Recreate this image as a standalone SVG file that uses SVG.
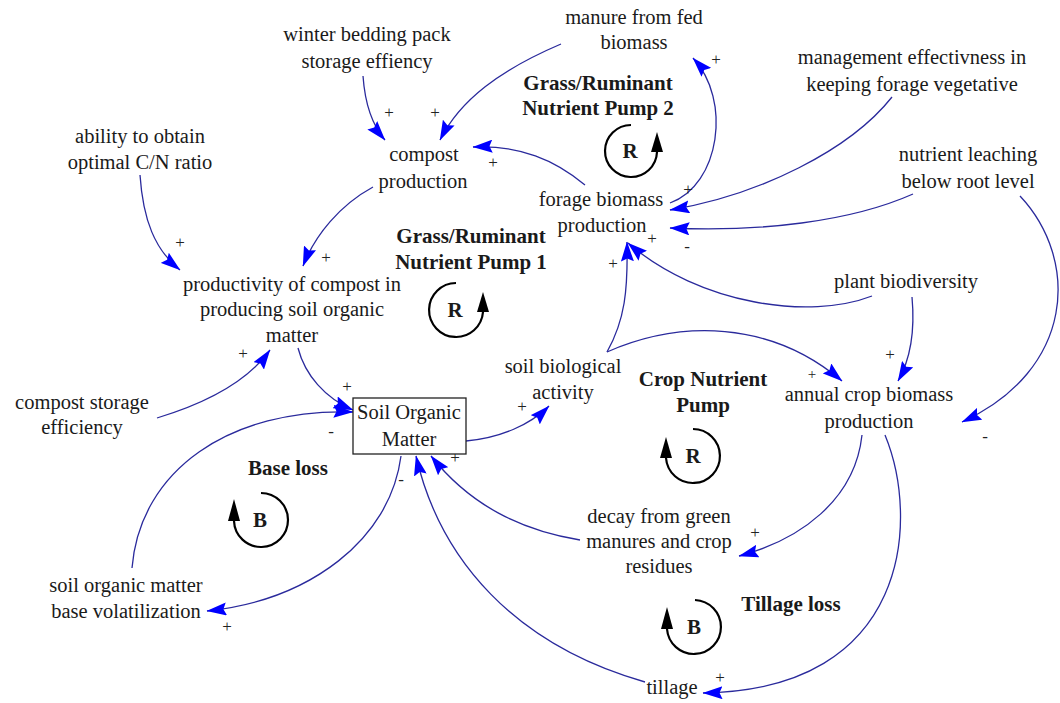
<svg xmlns="http://www.w3.org/2000/svg" width="1060" height="703" viewBox="0 0 1060 703">
<defs>
<style>
.t{font-family:"Liberation Serif","Times New Roman",serif;font-size:20.5px;fill:#1a1a1a;text-anchor:middle}
.b{font-family:"Liberation Serif","Times New Roman",serif;font-size:21px;font-weight:bold;fill:#1a1a1a;text-anchor:middle}
.p{font-family:"Liberation Serif","Times New Roman",serif;font-size:17px;fill:#222;text-anchor:middle}
.c{fill:none;stroke:#2a2a9c;stroke-width:1.3;marker-end:url(#ah)}
.l{fill:none;stroke:#000;stroke-width:2.2}
</style>
<marker id="ah" viewBox="0 0 20 13" refX="19.5" refY="6.5" markerWidth="20" markerHeight="13" orient="auto" markerUnits="userSpaceOnUse">
<path d="M0,0 L20,6.5 L0,13 L3,6.5 z" fill="#0000ff"/>
</marker>
</defs>
<rect width="1060" height="703" fill="#fff"/>

<g id="connectors">
<path class="c" d="M363,76 Q366,118 385,140"/>
<path class="c" d="M561,44 C500,70 460,100 440,140"/>
<path class="c" d="M585,185 C555,160 520,145 473,147"/>
<path class="c" d="M670,203 C720,185 732,100 693,58"/>
<path class="c" d="M892,97 C850,150 760,195 670,210"/>
<path class="c" d="M913,194 C850,222 760,232 670,228"/>
<path class="c" d="M1020,196 C1080,260 1075,370 962,422"/>
<path class="c" d="M872,296 C810,320 700,305 628,243"/>
<path class="c" d="M912,297 C915,330 910,360 898,381"/>
<path class="c" d="M607,352 C625,320 628,290 627,242"/>
<path class="c" d="M607,352 C680,320 770,320 842,381"/>
<path class="c" d="M298,348 C305,375 325,398 353,410"/>
<path class="c" d="M157,418 C200,405 245,385 270,350"/>
<path class="c" d="M140,175 C143,220 155,250 180,270"/>
<path class="c" d="M373,187 C340,205 315,235 303,266"/>
<path class="c" d="M132,568 C140,470 230,408 353,412"/>
<path class="c" d="M401,456 C390,540 310,600 207,611"/>
<path class="c" d="M466,441 C500,438 530,425 549,406"/>
<path class="c" d="M580,540 C520,530 470,505 431,456"/>
<path class="c" d="M645,682 C515,645 440,560 416,456"/>
<path class="c" d="M862,435 C855,500 800,540 739,556"/>
<path class="c" d="M885,435 C920,520 910,690 703,693"/>
</g>

<g id="polarities">
<text class="p" x="389" y="118">+</text>
<text class="p" x="435" y="118">+</text>
<text class="p" x="493" y="168">+</text>
<text class="p" x="716" y="65">+</text>
<text class="p" x="688" y="195">+</text>
<text class="p" x="687" y="252">-</text>
<text class="p" x="652" y="244">+</text>
<text class="p" x="613" y="269">+</text>
<text class="p" x="180" y="248">+</text>
<text class="p" x="326" y="263">+</text>
<text class="p" x="243" y="359">+</text>
<text class="p" x="347" y="392">+</text>
<text class="p" x="331" y="437">-</text>
<text class="p" x="227" y="632">+</text>
<text class="p" x="522" y="412">+</text>
<text class="p" x="401" y="485">-</text>
<text class="p" x="455" y="463">+</text>
<text class="p" x="812" y="379" style="font-size:15px">+</text>
<text class="p" x="890" y="360">+</text>
<text class="p" x="985" y="442">-</text>
<text class="p" x="755" y="538">+</text>
<text class="p" x="720" y="683">+</text>
</g>

<g id="manure"><text class="t" x="634" y="24">manure from fed</text><text class="t" x="634" y="49">biomass</text></g>
<g id="winter"><text class="t" x="367" y="41">winter bedding pack</text><text class="t" x="367" y="68">storage effiency</text></g>
<g id="ability"><text class="t" x="140" y="143">ability to obtain</text><text class="t" x="140" y="169">optimal C/N ratio</text></g>
<g id="compost"><text class="t" x="424" y="161">compost</text><text class="t" x="423" y="188">production</text></g>
<g id="forage"><text class="t" x="601" y="206">forage biomass</text><text class="t" x="602" y="232">production</text></g>
<g id="management"><text class="t" x="912" y="64">management effectivness in</text><text class="t" x="912" y="91">keeping forage vegetative</text></g>
<g id="leaching"><text class="t" x="968" y="161">nutrient leaching</text><text class="t" x="968" y="188">below root level</text></g>
<g id="productivity"><text class="t" x="292" y="291">productivity of compost in</text><text class="t" x="292" y="316">producing soil organic</text><text class="t" x="292" y="342">matter</text></g>
<g id="storage"><text class="t" x="82" y="409">compost storage</text><text class="t" x="82" y="434">efficiency</text></g>
<g id="som"><rect x="353" y="398" width="113" height="56" fill="#fff" stroke="#222" stroke-width="1.3"/><text class="t" x="409" y="419">Soil Organic</text><text class="t" x="409" y="446">Matter</text></g>
<g id="soilbio"><text class="t" x="563" y="373">soil biological</text><text class="t" x="563" y="399">activity</text></g>
<g id="plantbio"><text class="t" x="906" y="288">plant biodiversity</text></g>
<g id="annual"><text class="t" x="869" y="401">annual crop biomass</text><text class="t" x="869" y="428">production</text></g>
<g id="decay"><text class="t" x="659" y="523">decay from green</text><text class="t" x="659" y="548">manures and crop</text><text class="t" x="659" y="573">residues</text></g>
<g id="volatilization"><text class="t" x="126" y="592">soil organic matter</text><text class="t" x="126" y="618">base volatilization</text></g>
<g id="tillage"><text class="t" x="672" y="694">tillage</text></g>

<g id="loop-r2"><text class="b" x="598" y="90">Grass/Ruminant</text><text class="b" x="598" y="115">Nutrient Pump 2</text>
<path class="l" d="M631,125 A26,26 0 1,0 657,152"/><polygon points="651,152 663,152 657,132" fill="#000"/><text class="b" x="630" y="158">R</text></g>
<g id="loop-r1"><text class="b" x="471" y="243">Grass/Ruminant</text><text class="b" x="471" y="269">Nutrient Pump 1</text>
<path class="l" d="M456,283 A27,27 0 1,0 483,312"/><polygon points="477,312 489,312 483,292" fill="#000"/><text class="b" x="455" y="317">R</text></g>
<g id="loop-r3"><text class="b" x="703" y="386">Crop Nutrient</text><text class="b" x="703" y="412">Pump</text>
<path class="l" d="M693,429 A27,27 0 1,1 666,458"/><polygon points="660,458 672,458 666,437" fill="#000"/><text class="b" x="693" y="463">R</text></g>
<g id="loop-b1"><text class="b" x="288" y="475">Base loss</text>
<path class="l" d="M261,493 A27,27 0 1,1 234,521"/><polygon points="228,521 240,521 234,499" fill="#000"/><text class="b" x="260" y="527">B</text></g>
<g id="loop-b2"><text class="b" x="791" y="611">Tillage loss</text>
<path class="l" d="M695,600 A27,27 0 1,1 667,629"/><polygon points="661,629 673,629 667,607" fill="#000"/><text class="b" x="694" y="634">B</text></g>
</svg>
